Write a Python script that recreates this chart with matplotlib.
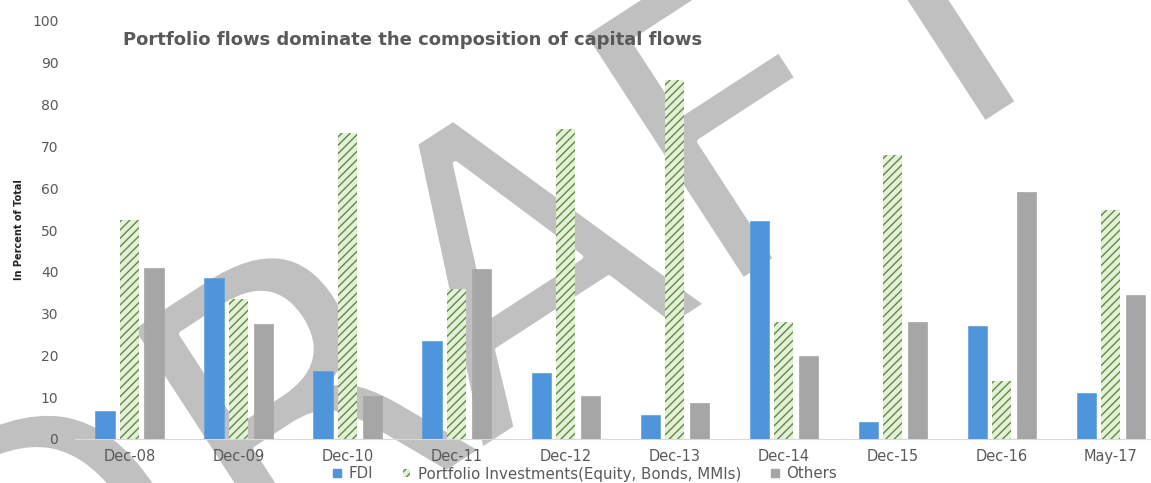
import numpy as np
import matplotlib
matplotlib.use("Agg")
from matplotlib import pyplot as plt
from matplotlib.patches import Patch
import matplotlib.patheffects as pe

periods = ["Dec-08", "Dec-09", "Dec-10", "Dec-11", "Dec-12",
           "Dec-13", "Dec-14", "Dec-15", "Dec-16", "May-17"]
fdi = [6.6, 38.5, 16.3, 23.5, 15.7, 5.7, 52.1, 4.0, 27.0, 11.0]
portfolio = [52.5, 33.4, 73.3, 35.8, 74.1, 85.8, 28.1, 68.0, 13.8, 54.9]
others = [41.0, 27.4, 10.3, 40.6, 10.2, 8.5, 19.9, 28.0, 59.1, 34.4]

series_names = ["FDI", "Portfolio Investments(Equity, Bonds, MMIs)", "Others"]
title = "Portfolio flows dominate the composition of capital flows"

txt = "#595959"
plt.rcParams["hatch.linewidth"] = 1.0

fig = plt.figure(figsize=(11.51, 4.83), dpi=100)
ax = fig.add_axes([75 / 1151, 44 / 483, 1076 / 1151, 418 / 483])
ax.set_facecolor("none")

x = np.arange(len(periods))
w = 0.175
off = 0.225

ax.bar(x - off, fdi, w, color="#4f95dc", edgecolor="#5aa0e0", linewidth=0.5, zorder=3)
ax.bar(x, portfolio, w, color="#e4f0d8", edgecolor="#5f8a42", hatch="////",
       linewidth=0, zorder=3)
ax.bar(x + off, others, w, color="#a6a6a6", edgecolor="#a6a6a6", linewidth=0.5, zorder=3)

# draft watermark, sits behind the bars
ax.text(490 / 1151, 1 - 312 / 483, "DRAFT", transform=fig.transFigure,
        fontsize=290, color="#c0c0c0", rotation=33, rotation_mode="anchor",
        ha="center", va="center", zorder=1,
        path_effects=[pe.Normal(), pe.Stroke(linewidth=4, foreground="white")])

ax.set_xlim(-0.5, 9.37)
ax.set_ylim(0, 100)
ax.set_yticks(np.arange(0, 101, 10))
ax.set_xticks(x)
ax.set_xticklabels(periods)
ax.tick_params(axis="both", length=0, colors=txt)
ax.tick_params(axis="x", pad=7, labelsize=10.5)
ax.tick_params(axis="y", pad=12, labelsize=10)
for s in ["top", "right", "left"]:
    ax.spines[s].set_visible(False)
ax.spines["bottom"].set_color("#d9d9d9")
ax.spines["bottom"].set_zorder(2)

fig.text(123 / 1151, 1 - 40 / 483, title, fontsize=13, fontweight="bold",
         color=txt, ha="left", va="center")
fig.text(19 / 1151, 1 - 230 / 483, "In Percent of Total", rotation=90,
         family=["Liberation Sans Narrow", "DejaVu Sans"], fontweight="bold",
         fontsize=7, color="#222222", ha="center", va="center")

handles = [Patch(facecolor="#4f95dc", edgecolor="#4f95dc"),
           Patch(facecolor="#e4f0d8", edgecolor="#5f8a42", hatch="////", linewidth=0),
           Patch(facecolor="#a6a6a6", edgecolor="#a6a6a6")]
fig.legend(handles, series_names, loc="center", bbox_to_anchor=(585 / 1151, 1 - 474 / 483),
           ncol=3, frameon=False, fontsize=10.8, labelcolor=txt, handlelength=0.5,
           handleheight=0.5, handletextpad=0.5, columnspacing=2.0, borderpad=0)

fig.savefig("out.png", dpi=100)
